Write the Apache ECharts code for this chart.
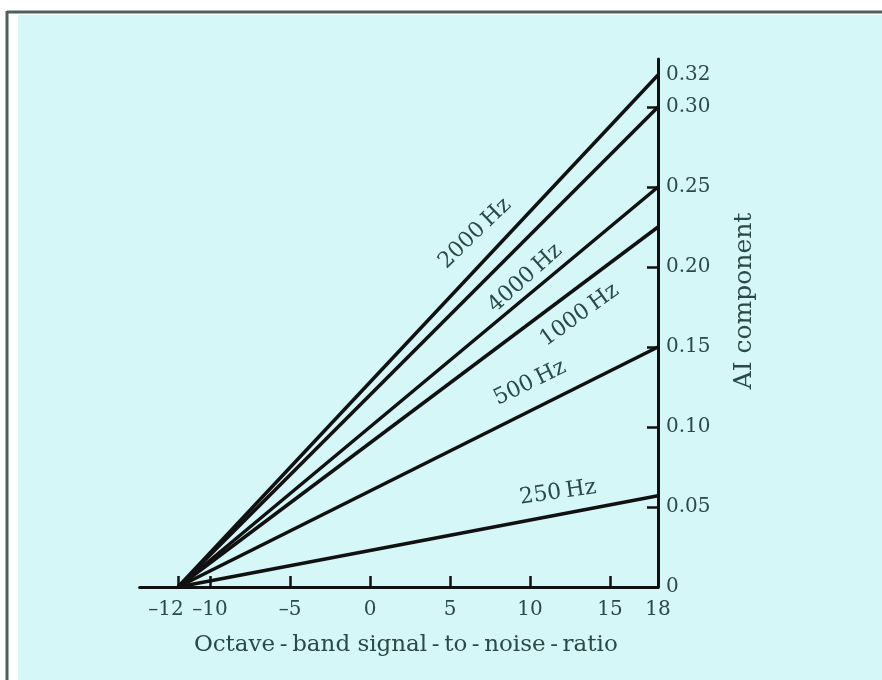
<!DOCTYPE html>
<html>
<head>
<meta charset="utf-8">
<script src="https://cdn.jsdelivr.net/npm/echarts@6/dist/echarts.min.js"></script>
<style>html,body{margin:0;padding:0;background:#fff;}#c{width:882px;height:680px;}</style>
</head>
<body>
<div id="c"></div>
<script>
// Data
const startSNR = -12;
const endSNR = 18;
const bandLabels = ['2000\u2009Hz', '', '4000\u2009Hz', '1000\u2009Hz', '500\u2009Hz', '250\u2009Hz'];
const endValues = [0.32, 0.30, 0.25, 0.225, 0.15, 0.057];
const xLabelValues = [-12, -10, -5, 0, 5, 10, 15, 18];
const xTickValues = [-12, -10, -5, 0, 5, 10, 15];
const yLabelValues = [0, 0.05, 0.10, 0.15, 0.20, 0.25, 0.30, 0.32];
const yTickValues = [0.05, 0.10, 0.15, 0.20, 0.25, 0.30];

// label placement (styling)
const labelPlace = [
  {x: 6.56, y: 0.221, rot: 44},
  null,
  {x: 9.7, y: 0.193, rot: 42},
  {x: 13.1, y: 0.170, rot: 36},
  {x: 10.0, y: 0.1275, rot: 26},
  {x: 11.75, y: 0.059, rot: 8}
];

const textColor = '#2d4848';
const lineColor = '#111';
const font = 'DejaVu Serif';

const series = endValues.map((v, i) => {
  const s = {
    type: 'line',
    name: 'line' + i,
    data: [[startSNR, 0], [endSNR, v]],
    symbol: 'none',
    lineStyle: {color: lineColor, width: 3.5},
    z: 3,
    silent: true
  };
  const lp = labelPlace[i];
  if (lp && bandLabels[i]) {
    s.markPoint = {
      symbol: 'circle', symbolSize: 0,
      silent: true,
      data: [{coord: [lp.x, lp.y], value: 1}],
      label: {
        show: true, position: 'inside', formatter: bandLabels[i],
        rotate: lp.rot, color: textColor, fontFamily: font, fontSize: 22
      }
    };
  }
  return s;
});

const chart = echarts.init(document.getElementById('c'), null, {renderer: 'canvas'});
chart.setOption({
  backgroundColor: '#fff',
  animation: false,
  graphic: [
    {type: 'rect', z: -10, shape: {x: 18, y: 15, width: 870, height: 670}, style: {fill: '#d5f7f8'}},
    {type: 'line', z: -9, shape: {x1: 7, y1: 12, x2: 882, y2: 12}, style: {stroke: '#4f5f5c', lineWidth: 3}},
    {type: 'line', z: -9, shape: {x1: 7, y1: 11, x2: 7, y2: 680}, style: {stroke: '#4f5f5c', lineWidth: 3}}
  ],
  grid: {left: 139.6, right: 224, top: 59, bottom: 93, containLabel: false},
  xAxis: {
    type: 'value', min: -14.4, max: 18,
    name: 'Octave\u2009-\u2009band signal\u2009-\u2009to\u2009-\u2009noise\u2009-\u2009ratio',
    nameLocation: 'middle', nameGap: 47,
    nameTextStyle: {color: textColor, fontFamily: font, fontSize: 23, padding: [0, 0, 0, 14]},
    axisLine: {show: true, onZero: false, lineStyle: {color: lineColor, width: 3}},
    axisTick: {show: true, inside: true, length: 11, customValues: xTickValues, lineStyle: {color: lineColor, width: 2.5}},
    axisLabel: {
      customValues: xLabelValues, color: textColor, fontFamily: font, fontSize: 20, margin: 13,
      hideOverlap: false,
      formatter: v => v === -12 ? '{s|\u201312}' : String(v).replace('-', '\u2013'),
      rich: {s: {fontFamily: font, fontSize: 20, color: textColor, padding: [0, 24, 0, 0]}}
    },
    splitLine: {show: false}
  },
  yAxis: {
    type: 'value', min: 0, max: 0.33, position: 'right',
    name: 'AI component',
    nameLocation: 'middle', nameGap: 74, nameRotate: 90,
    nameTextStyle: {color: textColor, fontFamily: font, fontSize: 25, padding: [0, 0, 0, 44]},
    axisLine: {show: true, onZero: false, lineStyle: {color: lineColor, width: 3}},
    axisTick: {show: true, inside: true, length: 11, customValues: yTickValues, lineStyle: {color: lineColor, width: 2.5}},
    axisLabel: {
      customValues: yLabelValues, color: textColor, fontFamily: font, fontSize: 20, margin: 8,
      hideOverlap: false,
      formatter: v => v === 0 ? '0' : v.toFixed(2)
    },
    splitLine: {show: false}
  },
  series: series
});
</script>
</body>
</html>
